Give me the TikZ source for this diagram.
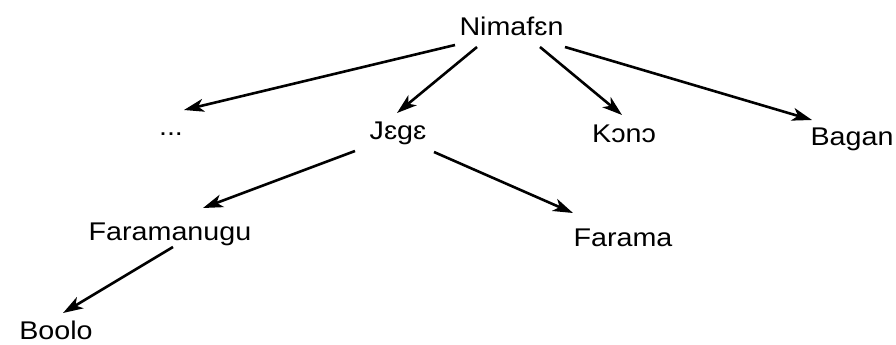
\documentclass[tikz,border=0pt]{standalone}
\usepackage{fontspec}
\setmainfont[FakeStretch=1.12]{Liberation Sans}
\usetikzlibrary{arrows.meta,calc}
\begin{document}
\begin{tikzpicture}[x=1pt,y=-1pt,
  lbl/.style={anchor=base,inner sep=0pt,font=\fontsize{25.6}{30}\selectfont},
  arr/.style={line width=2.6pt,-{Stealth[length=20pt,width=13pt,inset=5.5pt]}}]
\useasboundingbox (0,0) rectangle (896,345);
\node[lbl] (nim) at (511.5,36) {Nimafɛn};
\node[lbl] (dots) at (171,135) {...};
\node[lbl] (jege) at (398,139) {Jɛgɛ};
\node[lbl] (kono) at (624,142) {Kɔnɔ};
\node[lbl] (bagan) at (852,145) {Bagan};
\node[lbl] (faram) at (170,240) {Faramanugu};
\node[lbl] (farama) at (623,246) {Farama};
\node[lbl] (boolo) at (56,339) {Boolo};
\draw[arr] ($(nim.base)+(-56.5,9)$) -- ($(dots.base)+(13,-25)$);
\draw[arr] ($(nim.base)+(-34.5,11)$) -- ($(jege.base)+(-1,-26)$);
\draw[arr] ($(nim.base)+(28.5,11)$) -- ($(kono.base)+(-2,-27)$);
\draw[arr] ($(nim.base)+(53.5,11)$) -- ($(bagan.base)+(-40,-25)$);
\draw[arr] ($(jege.base)+(-43,12)$) -- ($(faram.base)+(33,-32)$);
\draw[arr] ($(jege.base)+(36,13)$) -- ($(farama.base)+(-50,-33)$);
\draw[arr] ($(faram.base)+(3,7)$) -- ($(boolo.base)+(7,-26)$);
\end{tikzpicture}
\end{document}
